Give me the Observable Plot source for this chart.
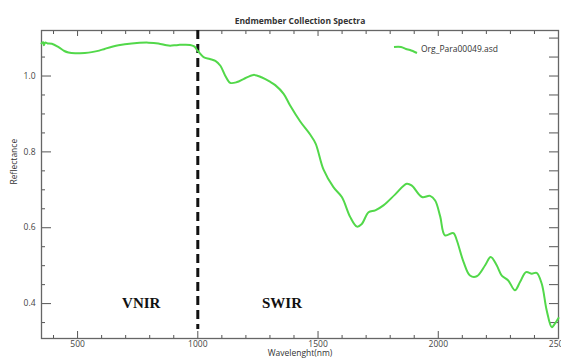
<!DOCTYPE html>
<html>
<head>
<meta charset="utf-8">
<script src="https://cdn.jsdelivr.net/npm/d3@7"></script>
<script src="https://cdn.jsdelivr.net/npm/@observablehq/plot@0.6"></script>
<style>
  html, body { margin: 0; padding: 0; background: #fff; }
  #chart { position: relative; width: 561px; height: 358px; overflow: hidden; }
  #legend { position: absolute; left: 393px; top: 43px; display: flex; align-items: center;
            font: 8.5px "Open Sans", sans-serif; color: #333; }
  #legend svg { margin-right: 3px; }
</style>
</head>
<body>
<div id="chart"><div id="legend"></div></div>
<script>
// Spectrum of sample Org_Para00049.asd
const wavelength = [350, 357, 360, 365, 375, 393, 421, 445, 462, 490, 530, 559, 590, 615, 670, 725, 795, 836, 870, 885, 919, 968, 985, 1000,
  1024, 1050, 1073, 1094, 1114, 1135, 1163, 1190, 1232, 1267, 1300, 1322, 1357, 1384, 1426, 1468, 1490, 1523, 1564, 1599, 1634, 1662, 1682,
  1710, 1738, 1772, 1821, 1869, 1890, 1932, 1966, 1987, 2008, 2028, 2063, 2077, 2105, 2132, 2160, 2195, 2218, 2243, 2264, 2291, 2319, 2340,
  2365, 2389, 2409, 2430, 2451, 2472, 2485, 2500];
const reflectance = [1.086, 1.089, 1.081, 1.088, 1.086, 1.085, 1.076, 1.066, 1.062, 1.060, 1.061, 1.063, 1.067, 1.072, 1.081, 1.086, 1.088, 1.086, 1.081, 1.080, 1.082, 1.082, 1.078, 1.066,
  1.050, 1.045, 1.040, 1.027, 1.001, 0.982, 0.984, 0.992, 1.003, 0.996, 0.985, 0.976, 0.953, 0.922, 0.880, 0.845, 0.822, 0.753, 0.707, 0.681, 0.628, 0.603, 0.610,
  0.641, 0.646, 0.659, 0.688, 0.716, 0.711, 0.681, 0.684, 0.672, 0.630, 0.580, 0.586, 0.567, 0.510, 0.474, 0.472, 0.501, 0.523, 0.501, 0.474, 0.461, 0.435, 0.457,
  0.483, 0.479, 0.481, 0.453, 0.382, 0.338, 0.347, 0.362];

const seriesName = "Org_Para00049.asd";
const title = "Endmember Collection Spectra";
const xLabel = "Wavelenght(nm)";
const yLabel = "Reflectance";

// Spectral regions split at the VNIR / SWIR boundary
const boundary = [1000];
const regionLabels = ["VNIR", "SWIR"];
const regionX = [765, 1350];
const regionY = [0.40, 0.40];

// Axis ticks
const xMajor = [500, 1000, 1500, 2000, 2500];
const xMinor = d3.range(400, 2500, 100).filter(v => v % 500 !== 0);
const yMajor = [0.4, 0.6, 0.8, 1.0];
const yMinor = [0.35, 0.45, 0.5, 0.55, 0.65, 0.7, 0.75, 0.85, 0.9, 0.95, 1.05];
const yRight = d3.range(0.35, 1.1001, 0.05).map(v => +v.toFixed(2));

const green = "#52d84a";
const spectrum = wavelength.map((w, i) => ({w, r: reflectance[i]}));
const regions = regionLabels.map((t, i) => ({t, x: regionX[i], y: regionY[i]}));
const blank = () => "";

const chart = Plot.plot({
  width: 561,
  height: 358,
  marginLeft: 41,
  marginRight: 3,
  marginTop: 30,
  marginBottom: 20,
  style: {fontFamily: "'Open Sans', sans-serif", fontSize: "8.5px", color: "#444", background: "#fff", overflow: "visible"},
  x: {domain: [350, 2500]},
  y: {domain: [0.308, 1.12]},
  marks: [
    // tick labels
    Plot.axisX({anchor: "bottom", ticks: xMajor, tickSize: 0, tickPadding: 2, label: null, tickFormat: d3.format("d")}),
    Plot.axisY({anchor: "left", ticks: yMajor, tickSize: 0, tickPadding: 6, label: null, tickFormat: d3.format(".1f")}),
    // inward ticks
    Plot.axisX({anchor: "bottom", ticks: xMajor, tickSize: -7, tickFormat: blank, label: null, stroke: "#555"}),
    Plot.axisX({anchor: "bottom", ticks: xMinor, tickSize: -3, tickFormat: blank, label: null, stroke: "#555"}),
    Plot.axisX({anchor: "top", ticks: xMajor, tickSize: -5, tickFormat: blank, label: null, stroke: "#555"}),
    Plot.axisX({anchor: "top", ticks: xMinor, tickSize: -3, tickFormat: blank, label: null, stroke: "#555"}),
    Plot.axisY({anchor: "left", ticks: yMajor, tickSize: -10, tickFormat: blank, label: null, stroke: "#555"}),
    Plot.axisY({anchor: "left", ticks: yMinor, tickSize: -4, tickFormat: blank, label: null, stroke: "#555"}),
    Plot.axisY({anchor: "right", ticks: yRight, tickSize: -10, tickFormat: blank, label: null, stroke: "#555"}),
    Plot.frame({stroke: "#666", strokeWidth: 1.3}),
    // VNIR / SWIR boundary
    Plot.ruleX(boundary, {stroke: "#111", strokeWidth: 3, strokeDasharray: "9,5", insetBottom: 9}),
    Plot.text(regions, {x: "x", y: "y", text: "t", fontFamily: "'Liberation Serif', serif", fontWeight: "bold", fontSize: 15, fill: "#111"}),
    // spectrum
    Plot.line(spectrum, {x: "w", y: "r", stroke: green, strokeWidth: 2, curve: "catmull-rom"}),
    // titles
    Plot.text([title], {frameAnchor: "top", dy: -13, fontWeight: "bold", fontSize: 8.5, fill: "#333"}),
    Plot.text([xLabel], {frameAnchor: "bottom", dy: 17, fontSize: 8.5, fill: "#333"}),
    Plot.text([yLabel], {frameAnchor: "left", dx: -27, rotate: -90, fontSize: 8.5, fill: "#333"})
  ]
});
document.getElementById("chart").prepend(chart);

// legend entry
const legend = d3.select("#legend");
const sw = legend.append("svg").attr("width", 25).attr("height", 10);
sw.append("path")
  .attr("d", d3.line().curve(d3.curveCatmullRom)([[1, 3], [8, 3], [13, 5], [17, 6], [24, 9]]))
  .attr("fill", "none").attr("stroke", green).attr("stroke-width", 2);
legend.append("span").text(seriesName);
</script>
</body>
</html>
